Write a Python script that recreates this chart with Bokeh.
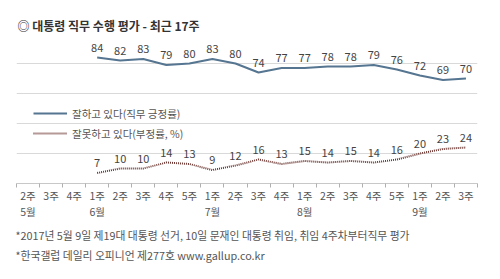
from bokeh.plotting import figure
from bokeh.models import (ColumnDataSource, FixedTicker, Legend, LegendItem,
                          LinearAxis, Title)
from bokeh.core.properties import value
from bokeh.embed import file_html
from bokeh.resources import INLINE

# ---- data ----
weeks = ["2주", "3주", "4주", "1주", "2주", "3주", "4주", "5주", "1주", "2주",
         "3주", "4주", "1주", "2주", "3주", "4주", "5주", "1주", "2주", "3주"]
months = ["5월", "", "", "6월", "", "", "", "", "7월", "", "",
          "", "8월", "", "", "", "", "9월", "", ""]
first_index = 3
positive = [84, 82, 83, 79, 80, 83, 80, 74, 77, 77, 78, 78, 79, 76, 72, 69, 70]
negative = [7, 10, 10, 14, 13, 9, 12, 16, 13, 15, 14, 15, 14, 16, 20, 23, 24]
pos_label = "잘하고 있다(직무 긍정률)"
neg_label = "잘못하고 있다(부정률, %)"
title_text = "◎  대통령 직무 수행 평가 - 최근 17주"
note1 = "*2017년 5월 9일 제19대 대통령 선거, 10일 문재인 대통령 취임, 취임 4주차부터직무 평가"
note2 = "*한국갤럽 데일리 오피니언 제277호 www.gallup.co.kr"

FONT = "Noto Sans CJK KR"
n = len(weeks)
xs = [first_index + i for i in range(len(positive))]

p = figure(width=500, height=279, output_backend="svg", toolbar_location=None,
           x_range=(-0.5, n - 0.5), y_range=(0, 100), title_location=None,
           y_axis_location=None, min_border_left=16, min_border_right=23,
           min_border_top=33, min_border_bottom=96)
p.outline_line_color = None
p.background_fill_color = "white"
p.border_fill_color = "white"

# invisible spacer above the title (pushes the title down)
p.add_layout(Title(text=".", text_font=FONT, text_font_size="7px",
                   text_alpha=0, standoff=0), "above")
main_title = Title(text=title_text, text_font=FONT, text_font_size="12px",
                   text_font_style="bold", text_color="#333333",
                   align="left", offset=1, standoff=0)
p.add_layout(main_title, "above")

p.xgrid.grid_line_color = None
p.ygrid.ticker = FixedTicker(ticks=[20, 40, 60, 80, 100])
p.ygrid.grid_line_color = "#d9d9d9"
p.ygrid.grid_line_width = 1

ax = p.xaxis[0]
ax.ticker = FixedTicker(ticks=list(range(n)),
                        minor_ticks=[i - 0.5 for i in range(n + 1)])
ax.major_label_overrides = {i: w for i, w in enumerate(weeks)}
ax.major_tick_line_color = None
ax.major_tick_out = 0
ax.major_tick_in = 0
ax.minor_tick_line_color = "#b0b0b0"
ax.minor_tick_out = 4
ax.minor_tick_in = 0
ax.axis_line_color = "#c8c8c8"
ax.major_label_standoff = 0
ax.major_label_text_font = FONT
ax.major_label_text_font_size = "10.5px"
ax.major_label_text_color = "#555555"

month_ticks = [i for i, m in enumerate(months) if m]
ax2 = LinearAxis(ticker=FixedTicker(ticks=month_ticks, minor_ticks=[]),
                 major_label_overrides={i: months[i] for i in month_ticks},
                 axis_line_color=None, major_tick_line_color=None,
                 minor_tick_line_color=None, major_tick_out=0,
                 major_tick_in=0, major_label_standoff=-2,
                 major_label_text_font=FONT,
                 major_label_text_font_size="10.5px",
                 major_label_text_color="#555555")
p.add_layout(ax2, "below")

pos_src = ColumnDataSource(dict(x=xs, y=positive, t=[str(v) for v in positive]))
neg_src = ColumnDataSource(dict(x=xs, y=negative, t=[str(v) for v in negative]))

r_pos = p.line("x", "y", source=pos_src, line_color="#557591", line_width=2)
r_neg = p.line("x", "y", source=neg_src, line_color="#6a3530", line_width=2,
               line_dash="1 1")

for src in (pos_src, neg_src):
    p.text("x", "y", text="t", source=src, text_font=value(FONT),
           text_font_size="11px", text_color="#444444", text_align="center",
           text_baseline="middle", y_offset=-10)

legend = Legend(items=[LegendItem(label=pos_label, renderers=[r_pos]),
                       LegendItem(label=neg_label, renderers=[r_neg])],
                location=(17, 40), glyph_width=34, glyph_height=20,
                label_standoff=5, padding=0, margin=0, spacing=0,
                border_line_color=None, background_fill_alpha=0,
                label_text_font=FONT, label_text_font_size="10.5px",
                label_text_color="#555555", label_height=20)
p.add_layout(legend)

for note, so in ((note1, 7), (note2, -3)):
    t = Title(text=note, align="left", offset=-1, standoff=so,
              text_font=FONT, text_font_size="10.8px",
              text_font_style="normal", text_color="#555555")
    p.add_layout(t, "below")

open("out.html", "w").write(file_html(p, INLINE))
